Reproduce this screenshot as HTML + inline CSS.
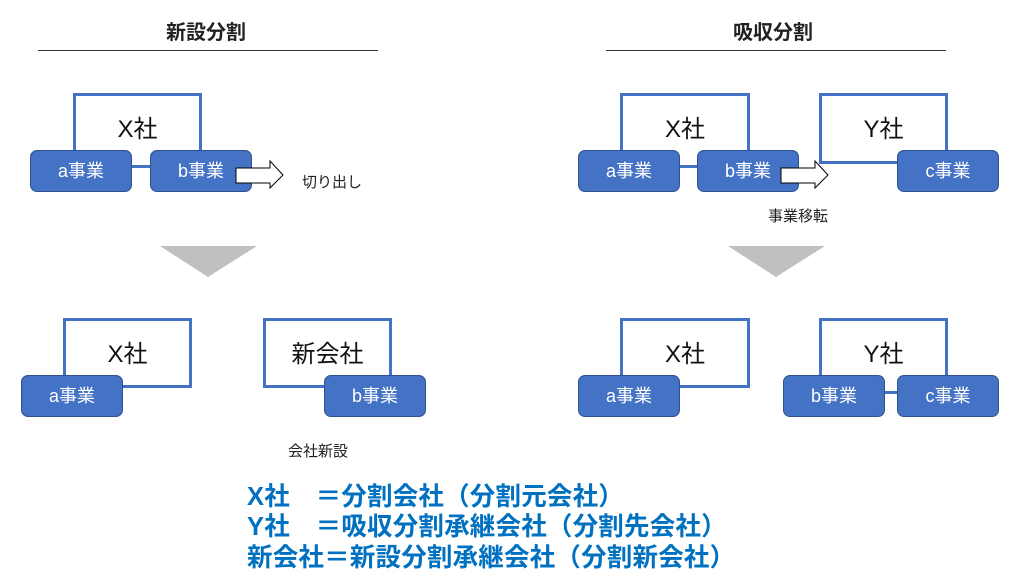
<!DOCTYPE html>
<html><head><meta charset="utf-8"><style>
body{margin:0;width:1023px;height:585px;background:#fff;position:relative;overflow:hidden;font-family:"Liberation Sans","Noto Sans CJK JP",sans-serif}
div{position:absolute;box-sizing:border-box}
.box{border:3px solid #4472C4;background:#fff;font-size:24px;color:#111;text-align:center;padding-top:13px}
.n{background:#4472C4;border:1px solid #2F528F;border-radius:7px;color:#fff;font-size:18px;text-align:center;line-height:40px;width:102px;height:42px}
.t{font-size:15px;color:#222;white-space:nowrap}
.h{font-size:20px;font-weight:bold;color:#222}
.hr{height:1px;background:#333}
.b{left:247px;font-size:25.5px;font-weight:bold;color:#0070C0;white-space:nowrap;letter-spacing:0.2px}
</style></head><body>
<div class="h" style="left:166px;top:16px">新設分割</div>
<div class="hr" style="left:38px;top:50px;width:340px"></div>
<div class="h" style="left:733px;top:16px">吸収分割</div>
<div class="hr" style="left:606px;top:50px;width:340px"></div>

<!-- top left -->
<div class="box" style="left:73px;top:93px;width:129px;height:75px">X社</div>
<div class="n" style="left:30px;top:150px">a事業</div>
<div class="n" style="left:150px;top:150px">b事業</div>
<svg style="position:absolute;left:0;top:0" width="1023" height="585">
<polygon points="236,168 270,168 270,161 283,175 270,188 270,183 236,183" fill="#fff" stroke="#000" stroke-width="1"/>
<polygon points="160,246 257,246 208,277" fill="#c0c0c0"/>
<polygon points="728,246 825,246 776,277" fill="#c0c0c0"/>
</svg>
<div class="t" style="left:302px;top:171px">切り出し</div>

<!-- top right -->
<div class="box" style="left:620px;top:93px;width:130px;height:75px">X社</div>
<div class="box" style="left:819px;top:93px;width:129px;height:71px">Y社</div>
<div class="n" style="left:578px;top:150px">a事業</div>
<div class="n" style="left:697px;top:150px">b事業</div>
<div class="n" style="left:897px;top:150px">c事業</div>
<svg style="position:absolute;left:0;top:0" width="1023" height="585">
<polygon points="781,168 815,168 815,161 828,175 815,188 815,183 781,183" fill="#fff" stroke="#000" stroke-width="1"/>
</svg>
<div class="t" style="left:768px;top:205px">事業移転</div>

<!-- bottom left -->
<div class="box" style="left:63px;top:318px;width:129px;height:70px">X社</div>
<div class="n" style="left:21px;top:375px">a事業</div>
<div class="box" style="left:263px;top:318px;width:129px;height:70px">新会社</div>
<div class="n" style="left:324px;top:375px">b事業</div>
<div class="t" style="left:288px;top:440px">会社新設</div>

<!-- bottom right -->
<div class="box" style="left:620px;top:318px;width:130px;height:70px">X社</div>
<div class="n" style="left:578px;top:375px">a事業</div>
<div class="box" style="left:819px;top:318px;width:129px;height:76px">Y社</div>
<div class="n" style="left:783px;top:375px">b事業</div>
<div class="n" style="left:897px;top:375px">c事業</div>

<div class="b" style="top:476px">X社　＝分割会社（分割元会社）</div>
<div class="b" style="top:506px">Y社　＝吸収分割承継会社（分割先会社）</div>
<div class="b" style="top:537px">新会社＝新設分割承継会社（分割新会社）</div>
</body></html>
